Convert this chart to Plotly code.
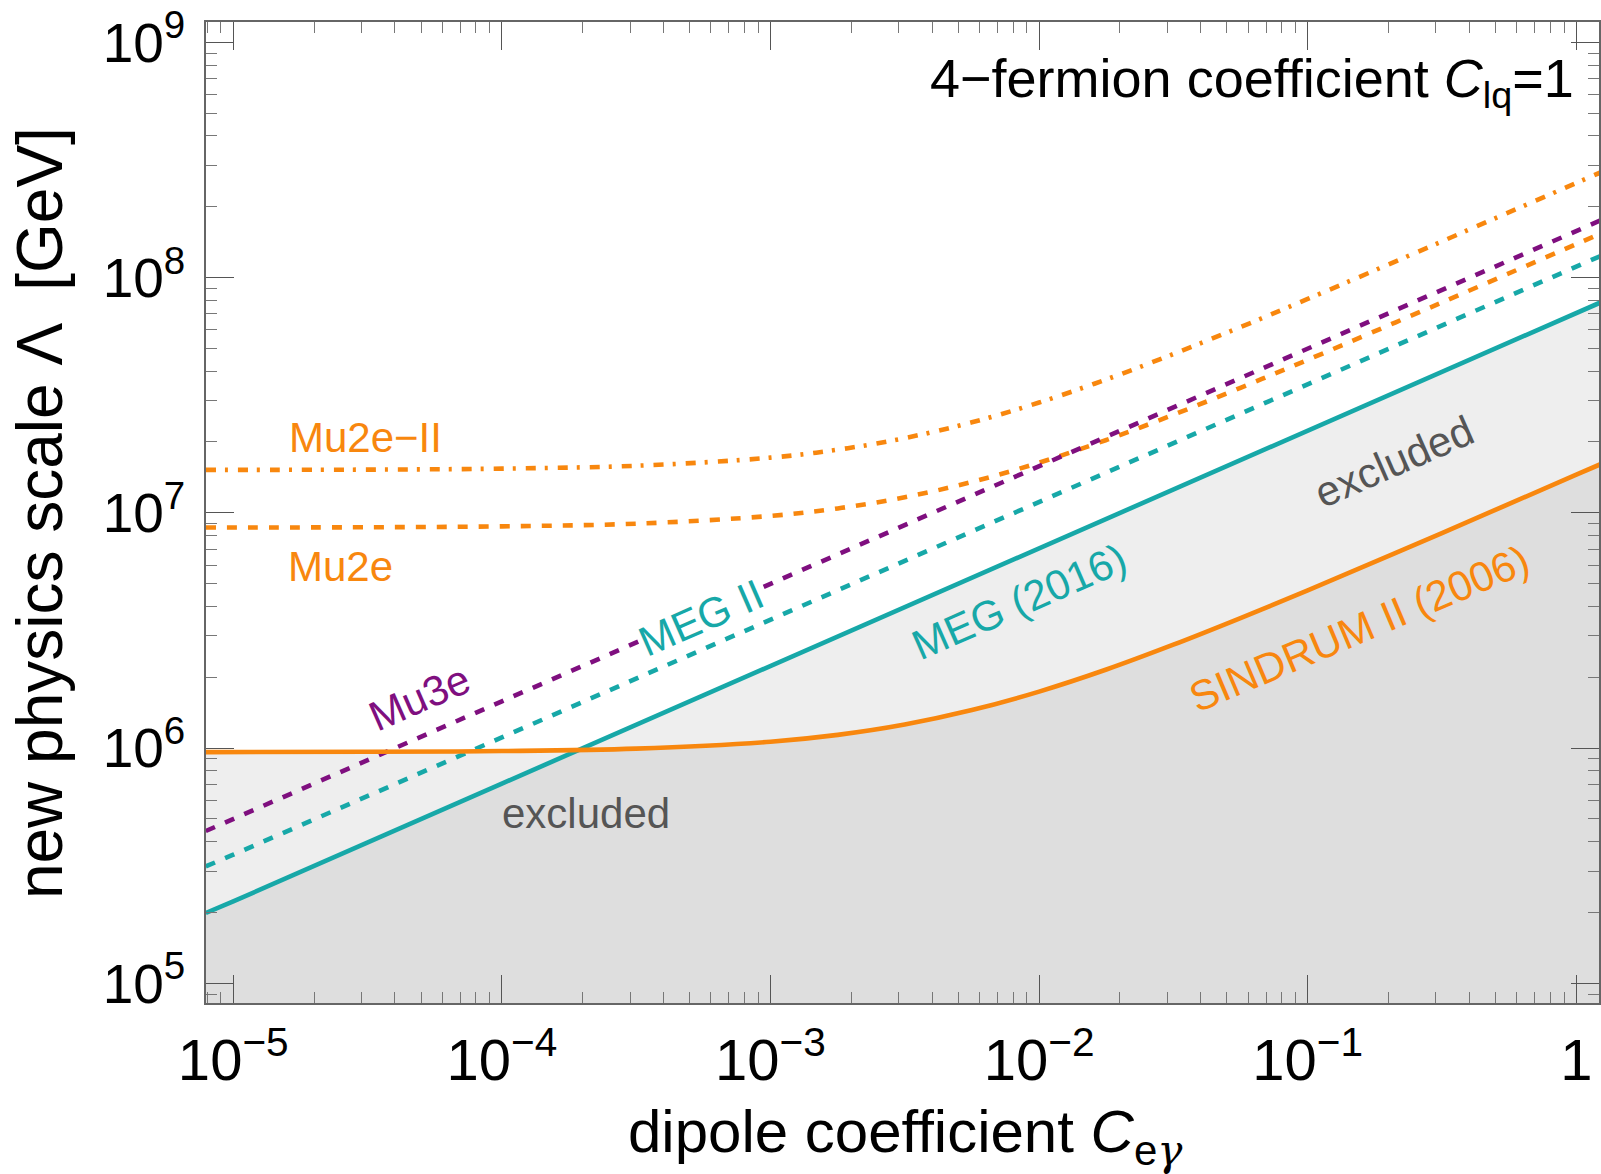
import plotly.graph_objects as go

# ---------------- data ----------------
# x grid for the curved bounds (dipole coefficient C_egamma)
c_curve = [7.9e-6, 3.16e-5, 1e-4, 3.16e-4, 1e-3, 1.78e-3, 3.16e-3, 5.62e-3,
           1e-2, 1.78e-2, 3.16e-2, 5.62e-2, 0.1, 0.316, 1.0, 1.26]
sindrum = [9.61e5, 9.64e5, 9.71e5, 9.94e5, 1.064e6, 1.138e6, 1.259e6, 1.45e6,
           1.738e6, 2.157e6, 2.75e6, 3.57e6, 4.68e6, 8.2e6, 1.452e7, 1.628e7]
mu2e = [8.66e6, 8.68e6, 8.76e6, 8.99e6, 9.70e6, 1.044e7, 1.164e7, 1.352e7,
        1.633e7, 2.04e7, 2.61e7, 3.40e7, 4.47e7, 7.84e7, 1.388e8, 1.557e8]
mu2e_ii = [1.522e7, 1.526e7, 1.541e7, 1.585e7, 1.716e7, 1.855e7, 2.078e7, 2.425e7,
           2.943e7, 3.69e7, 4.73e7, 6.16e7, 8.11e7, 1.425e8, 2.524e8, 2.83e8]

# x grid for the straight (power-law) bounds
c_line = [7.9e-6, 1e-5, 1e-4, 1e-3, 1e-2, 1e-1, 1.0, 1.26]
meg2016 = [1.99e5, 2.23e5, 7.06e5, 2.23e6, 7.06e6, 2.23e7, 7.06e7, 7.93e7]
meg_ii = [3.14e5, 3.52e5, 1.11e6, 3.52e6, 1.11e7, 3.52e7, 1.11e8, 1.25e8]
mu3e = [4.44e5, 4.99e5, 1.58e6, 4.99e6, 1.58e7, 4.99e7, 1.58e8, 1.77e8]

# ticks
x_tickvals = [1e-5, 1e-4, 1e-3, 1e-2, 1e-1, 1]
x_ticktext = ["10<sup>−5</sup>", "10<sup>−4</sup>", "10<sup>−3</sup>",
              "10<sup>−2</sup>", "10<sup>−1</sup>", "1"]
y_tickvals = [1e5, 1e6, 1e7, 1e8, 1e9]
y_ticktext = ["10<sup>5</sup>", "10<sup>6</sup>", "10<sup>7</sup>",
              "10<sup>8</sup>", "10<sup>9</sup>"]
x_minor = [m * 10.0 ** e for e in range(-6, 1) for m in range(2, 10)]
y_minor = [m * 10.0 ** e for e in range(4, 10) for m in range(2, 10)]

x_range_log = [-5.1015, 0.0844]
y_range_log = [4.9163, 9.0863]

# ---------------- style ----------------
ORANGE = "#F8870E"
TEAL = "#17A8A8"
PURPLE = "#7F0F7F"
GRAYTXT = "#555555"
FONT = "Liberation Sans, Arial, Helvetica, sans-serif"
SHADE = "rgba(0,0,0,0.068)"

fig = go.Figure()

# excluded regions: two translucent layers -> light where one excludes, darker where both do
fig.add_trace(go.Scatter(x=c_curve, y=sindrum, mode="lines", line=dict(width=0, shape="spline"),
                         fill="tozeroy", fillcolor=SHADE, hoverinfo="skip", showlegend=False))
fig.add_trace(go.Scatter(x=c_line, y=meg2016, mode="lines", line=dict(width=0),
                         fill="tozeroy", fillcolor=SHADE, hoverinfo="skip", showlegend=False))

LW = 4.6
fig.add_trace(go.Scatter(x=c_curve, y=mu2e_ii, mode="lines", name="Mu2e-II",
                         line=dict(color=ORANGE, width=LW, dash="10px,9px,3px,10px", shape="spline")))
fig.add_trace(go.Scatter(x=c_curve, y=mu2e, mode="lines", name="Mu2e",
                         line=dict(color=ORANGE, width=LW, dash="10px,11px", shape="spline")))
fig.add_trace(go.Scatter(x=c_line, y=mu3e, mode="lines", name="Mu3e",
                         line=dict(color=PURPLE, width=LW, dash="10px,11px")))
fig.add_trace(go.Scatter(x=c_line, y=meg_ii, mode="lines", name="MEG II",
                         line=dict(color=TEAL, width=LW, dash="10px,11px")))
fig.add_trace(go.Scatter(x=c_line, y=meg2016, mode="lines", name="MEG (2016)",
                         line=dict(color=TEAL, width=LW)))
fig.add_trace(go.Scatter(x=c_curve, y=sindrum, mode="lines", name="SINDRUM II (2006)",
                         line=dict(color=ORANGE, width=LW, shape="spline")))

axis_common = dict(
    type="log", tickmode="array",
    showline=True, linecolor="#666666", linewidth=1.5, mirror="allticks",
    ticks="inside", ticklen=28, tickwidth=1.2, tickcolor="#555555",
    showgrid=False, zeroline=False,
)

fig.update_xaxes(range=x_range_log, tickvals=x_tickvals, ticktext=x_ticktext,
                 minor=dict(tickmode="array", tickvals=x_minor, ticks="inside", ticklen=11,
                            tickwidth=1, tickcolor="#777777", showgrid=False),
                 tickfont=dict(size=58, color="black", family=FONT),
                 ticklabelstandoff=6, **axis_common)
fig.update_yaxes(range=y_range_log, tickvals=y_tickvals, ticktext=y_ticktext,
                 minor=dict(tickmode="array", tickvals=y_minor, ticks="inside", ticklen=11,
                            tickwidth=1, tickcolor="#777777", showgrid=False),
                 tickfont=dict(size=55, color="black", family=FONT),
                 ticklabelstandoff=8, **axis_common)

ANG = -23.6
annotations = [
    dict(x=-4.508, y=7.322, text="Mu2e−II", font=dict(size=42, color=ORANGE)),
    dict(x=-4.600, y=6.770, text="Mu2e", font=dict(size=42, color=ORANGE)),
    dict(x=-4.306, y=6.215, text="Mu3e", font=dict(size=42, color=PURPLE), textangle=ANG),
    dict(x=-3.256, y=6.553, text="MEG II", font=dict(size=42, color=TEAL), textangle=ANG,
         bgcolor="white", borderpad=0),
    dict(x=-2.072, y=6.621, text="MEG (2016)", font=dict(size=42, color=TEAL), textangle=ANG),
    dict(x=-0.808, y=6.510, text="SINDRUM II (2006)", font=dict(size=42, color=ORANGE), textangle=-23),
    dict(x=-0.678, y=7.218, text="excluded", font=dict(size=42, color=GRAYTXT), textangle=ANG),
    dict(x=-3.685, y=5.720, text="excluded", font=dict(size=42, color=GRAYTXT)),
    dict(x=0.0, y=8.831, text="4−fermion coefficient <i>C</i><sub>lq</sub>=1",
         font=dict(size=54, color="black"), xanchor="right"),
]
for a in annotations:
    a.setdefault("xanchor", "center")
    a.update(xref="x", yref="y", showarrow=False, yanchor="middle")
    a["font"]["family"] = FONT

annotations += [
    dict(xref="paper", yref="paper", x=0.502, y=-0.1356, showarrow=False,
         text="dipole coefficient <i>C</i><sub>e<span style=\"font-family:DejaVu Serif\"><i>γ</i></span></sub>",
         xanchor="center", yanchor="middle",
         font=dict(size=60, color="black", family=FONT)),
    dict(xref="paper", yref="paper", x=-0.1195, y=0.4989, showarrow=False, textangle=-90,
         text="new physics scale Λ  [GeV]", xanchor="center", yanchor="middle",
         font=dict(size=64, color="black", family=FONT)),
]

fig.update_layout(
    width=1601, height=1174,
    margin=dict(l=206, r=0, t=22, b=171),
    paper_bgcolor="white", plot_bgcolor="white",
    showlegend=False,
    font=dict(family=FONT, color="black"),
    annotations=annotations,
)

fig.write_html("out.html")
